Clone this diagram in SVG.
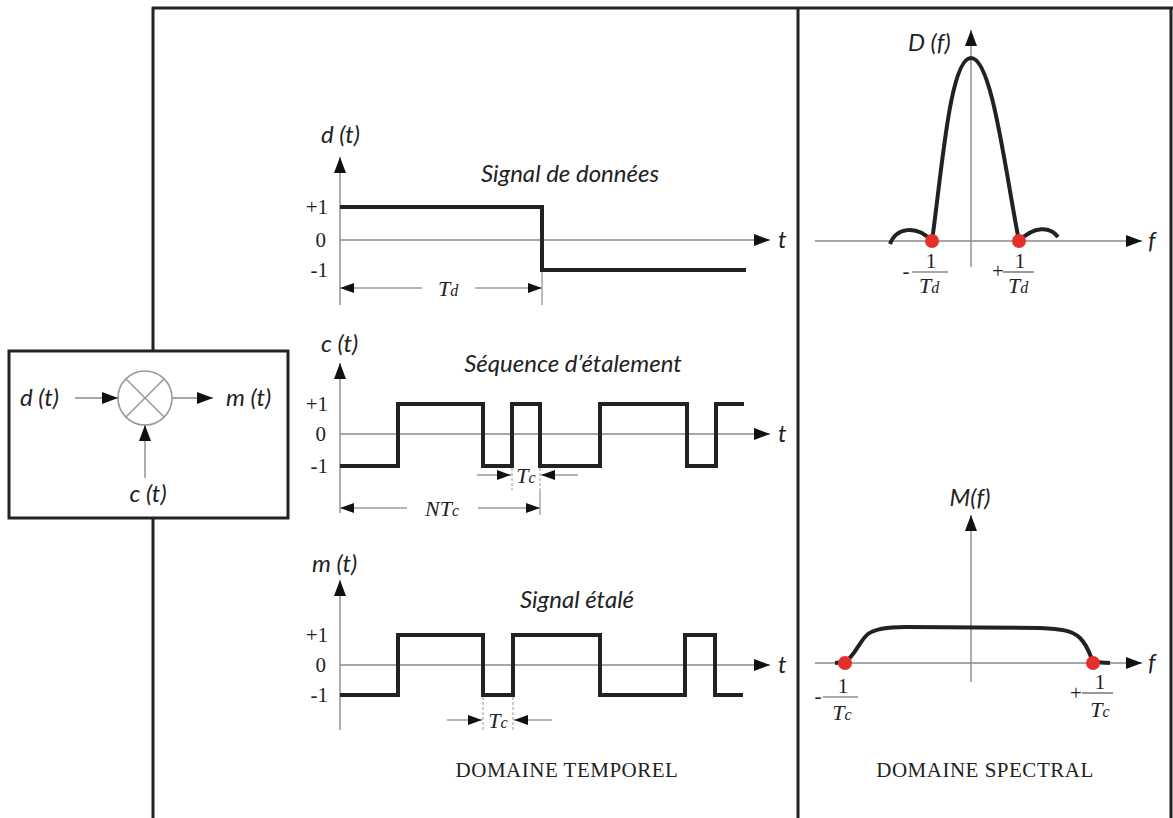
<svg xmlns="http://www.w3.org/2000/svg" width="1173" height="818" viewBox="0 0 1173 818">
<defs>
<marker id="ah" viewBox="0 0 16 12" refX="16" refY="6" markerWidth="16" markerHeight="12" orient="auto-start-reverse" markerUnits="userSpaceOnUse"><path d="M0,0 L16,6 L0,12 z" fill="#111"/></marker>
<marker id="ahs" viewBox="0 0 14 10" refX="14" refY="5" markerWidth="14" markerHeight="10" orient="auto-start-reverse" markerUnits="userSpaceOnUse"><path d="M0,0 L14,5 L0,10 z" fill="#111"/></marker>
<style>
.frame{fill:none;stroke:#222;stroke-width:3}
.axis{fill:none;stroke:#8a8a8a;stroke-width:1.4}
.dim{fill:none;stroke:#9a9a9a;stroke-width:1.3}
.tick{fill:none;stroke:#999;stroke-width:1;stroke-dasharray:3 2}
.sig{fill:none;stroke:#222;stroke-width:4;stroke-linejoin:miter}
.lab{font-family:Lato,"Open Sans",sans-serif;font-style:italic;font-size:24px;fill:#222}
.num{font-family:"Liberation Serif",serif;font-size:21px;fill:#222}
.var{font-family:"Liberation Serif",serif;font-style:italic;font-size:22px;fill:#222}
.cap{font-family:"Liberation Serif",serif;font-size:21px;letter-spacing:0.5px;fill:#222}
.dot{fill:#e3302b}
.bar{stroke:#555;stroke-width:1.2}
</style>
</defs>
<rect width="1173" height="818" fill="#fff"/>
<g id="frame">
<line class="frame" x1="153" y1="818" x2="153" y2="7"/>
<line class="frame" x1="152" y1="8" x2="1173" y2="8"/>
<line class="frame" x1="798" y1="8" x2="798" y2="818"/>
<line class="frame" x1="1171" y1="8" x2="1171" y2="818"/>
</g>
<g id="multiplier-box">
<rect x="9" y="351" width="279" height="167" fill="#fff" stroke="#222" stroke-width="3"/>
<circle cx="145" cy="398" r="27" fill="#fff" stroke="#999" stroke-width="1.6"/>
<line x1="126" y1="379" x2="164" y2="417" stroke="#999" stroke-width="1.6"/>
<line x1="164" y1="379" x2="126" y2="417" stroke="#999" stroke-width="1.6"/>
<text class="lab" x="20" y="406">d (t)</text>
<text class="lab" x="226" y="406">m (t)</text>
<text class="lab" x="148" y="502" text-anchor="middle">c (t)</text>
</g>
<g id="connectors">
<line class="axis" x1="75" y1="398" x2="118" y2="398" marker-end="url(#ah)"/>
<line class="axis" x1="172" y1="398" x2="213" y2="398" marker-end="url(#ah)"/>
<line class="axis" x1="145" y1="478" x2="145" y2="425" marker-end="url(#ah)"/>
</g>
<g id="data-signal">
<line class="axis" x1="340" y1="305" x2="340" y2="157" marker-end="url(#ah)"/>
<line class="axis" x1="340" y1="240" x2="770" y2="240" marker-end="url(#ah)"/>
<text class="lab" x="321" y="143">d (t)</text>
<text class="lab" x="570" y="182" text-anchor="middle">Signal de données</text>
<text class="num" x="328" y="214" text-anchor="end">+1</text>
<text class="num" x="326" y="247" text-anchor="end">0</text>
<text class="num" x="328" y="277" text-anchor="end">-1</text>
<text class="lab" x="778" y="248">t</text>
<path class="sig" d="M340,207 H542 V270 H746"/>
<line class="dim" x1="542" y1="272" x2="542" y2="305"/>
<line class="dim" x1="340" y1="288" x2="422" y2="288" marker-start="url(#ahs)"/>
<line class="dim" x1="475" y1="288" x2="542" y2="288" marker-end="url(#ahs)"/>
<text class="var" x="448" y="296" text-anchor="middle">T<tspan font-size="16">d</tspan></text>
</g>
<g id="spreading-sequence">
<line class="axis" x1="340" y1="513" x2="340" y2="363" marker-end="url(#ah)"/>
<line class="axis" x1="340" y1="434" x2="770" y2="434" marker-end="url(#ah)"/>
<text class="lab" x="321" y="352">c (t)</text>
<text class="lab" x="573" y="372" text-anchor="middle">Séquence d’étalement</text>
<text class="num" x="328" y="411" text-anchor="end">+1</text>
<text class="num" x="326" y="441" text-anchor="end">0</text>
<text class="num" x="328" y="473" text-anchor="end">-1</text>
<text class="lab" x="778" y="442">t</text>
<path class="sig" d="M340,466 H398 V404 H483 V466 H512 V404 H540 V466 H600 V404 H687 V466 H716 V404 H744"/>
<line class="tick" x1="512" y1="468" x2="512" y2="490"/>
<line class="tick" x1="540" y1="468" x2="540" y2="490"/>
<line class="dim" x1="540" y1="490" x2="540" y2="515"/>
<line class="dim" x1="477" y1="475" x2="511" y2="475" marker-end="url(#ahs)"/>
<line class="dim" x1="578" y1="475" x2="541" y2="475" marker-end="url(#ahs)"/>
<text class="var" x="526" y="483" text-anchor="middle">T<tspan font-size="16">c</tspan></text>
<line class="dim" x1="340" y1="508" x2="407" y2="508" marker-start="url(#ahs)"/>
<line class="dim" x1="478" y1="508" x2="540" y2="508" marker-end="url(#ahs)"/>
<text class="var" x="442" y="516" text-anchor="middle">NT<tspan font-size="16">c</tspan></text>
</g>
<g id="spread-signal">
<line class="axis" x1="340" y1="730" x2="340" y2="580" marker-end="url(#ah)"/>
<line class="axis" x1="340" y1="665" x2="770" y2="665" marker-end="url(#ah)"/>
<text class="lab" x="312" y="572">m (t)</text>
<text class="lab" x="577" y="608" text-anchor="middle">Signal étalé</text>
<text class="num" x="328" y="642" text-anchor="end">+1</text>
<text class="num" x="326" y="672" text-anchor="end">0</text>
<text class="num" x="328" y="702" text-anchor="end">-1</text>
<text class="lab" x="778" y="673">t</text>
<path class="sig" d="M340,695 H398 V635 H483 V695 H513 V635 H600 V695 H685 V635 H715 V695 H743"/>
<line class="tick" x1="483" y1="697" x2="483" y2="730"/>
<line class="tick" x1="513" y1="697" x2="513" y2="730"/>
<line class="dim" x1="447" y1="720" x2="482" y2="720" marker-end="url(#ahs)"/>
<line class="dim" x1="552" y1="720" x2="514" y2="720" marker-end="url(#ahs)"/>
<text class="var" x="498" y="728" text-anchor="middle">T<tspan font-size="16">c</tspan></text>
<text class="cap" x="567" y="777" text-anchor="middle">DOMAINE TEMPOREL</text>
</g>
<g id="data-spectrum">
<line class="axis" x1="971" y1="267" x2="971" y2="30" marker-end="url(#ah)"/>
<line class="axis" x1="815" y1="241" x2="1142" y2="241" marker-end="url(#ah)"/>
<text class="lab" x="908" y="51">D (f)</text>
<text class="lab" x="1148" y="249">f</text>
<path class="sig" d="M932,241 C942,170 950,58 971,58 C992,58 1005,170 1019,241"/>
<path class="sig" stroke-width="3.5" d="M890,244 C896,228 916,224 932,241"/>
<path class="sig" stroke-width="3.5" d="M1019,241 C1034,226 1050,226 1058,237"/>
<circle class="dot" cx="932" cy="241" r="7"/>
<circle class="dot" cx="1019" cy="241" r="7"/>
<text class="num" x="906" y="278" text-anchor="middle">-</text>
<line class="bar" x1="912" y1="272" x2="948" y2="272"/>
<text class="num" x="931" y="268" text-anchor="middle">1</text>
<text class="var" x="929" y="293" text-anchor="middle">T<tspan font-size="16">d</tspan></text>
<text class="num" x="998" y="278" text-anchor="middle">+</text>
<line class="bar" x1="1003" y1="272" x2="1034" y2="272"/>
<text class="num" x="1020" y="268" text-anchor="middle">1</text>
<text class="var" x="1018" y="293" text-anchor="middle">T<tspan font-size="16">d</tspan></text>
</g>
<g id="spread-spectrum">
<line class="axis" x1="971" y1="682" x2="971" y2="515" marker-end="url(#ah)"/>
<line class="axis" x1="815" y1="663" x2="1142" y2="663" marker-end="url(#ah)"/>
<text class="lab" x="970" y="506" text-anchor="middle">M(f)</text>
<text class="lab" x="1148" y="671">f</text>
<path class="sig" d="M835,663 L845,662 C855,656 860,640 868,634 C876,628 890,627 905,627 L1040,628 C1060,629 1072,630 1080,638 C1088,646 1090,655 1093,662 L1110,663"/>
<circle class="dot" cx="845" cy="663" r="7"/>
<circle class="dot" cx="1093" cy="663" r="7"/>
<text class="num" x="818" y="703" text-anchor="middle">-</text>
<line class="bar" x1="823" y1="697" x2="858" y2="697"/>
<text class="num" x="843" y="693" text-anchor="middle">1</text>
<text class="var" x="842" y="720" text-anchor="middle">T<tspan font-size="16">c</tspan></text>
<text class="num" x="1076" y="700" text-anchor="middle">+</text>
<line class="bar" x1="1082" y1="693" x2="1113" y2="693"/>
<text class="num" x="1100" y="689" text-anchor="middle">1</text>
<text class="var" x="1100" y="717" text-anchor="middle">T<tspan font-size="16">c</tspan></text>
<text class="cap" x="985" y="777" text-anchor="middle">DOMAINE SPECTRAL</text>
</g>
</svg>
